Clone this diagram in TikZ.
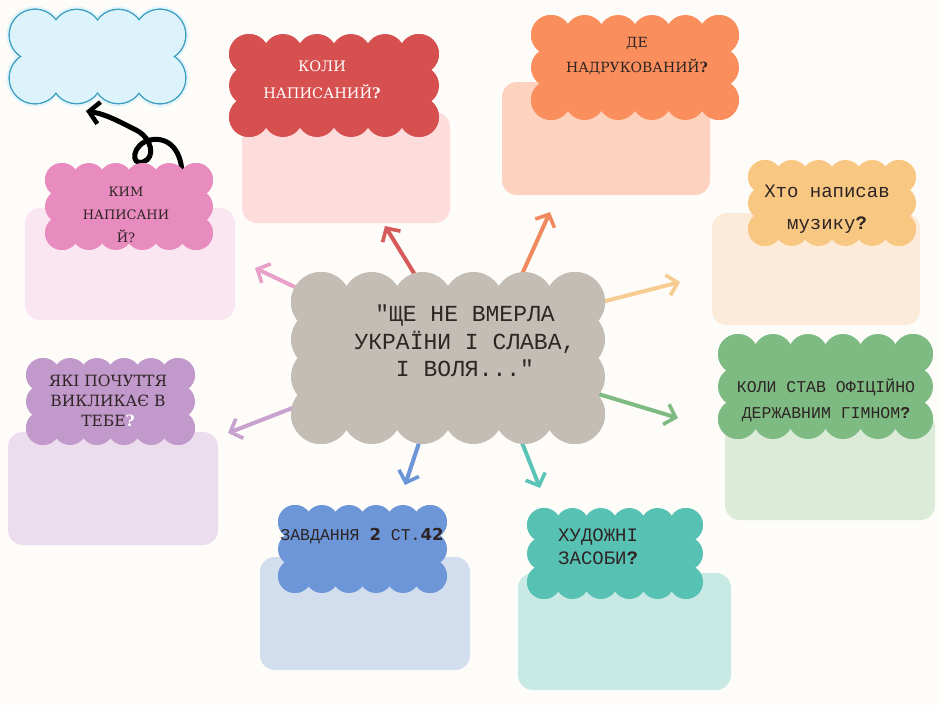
\documentclass[tikz,border=0pt]{standalone}
\usepackage{fontspec}
\setmainfont{DejaVu Serif}
\newfontfamily\mono{Liberation Mono}
\newfontfamily\digf{DejaVu Sans}
\usetikzlibrary{arrows.meta}
\definecolor{bg}{HTML}{FDFCF9}
\definecolor{ink}{HTML}{2E2424}
\definecolor{skyF}{HTML}{DDF3FC}
\definecolor{skyS}{HTML}{3E9FC0}
\definecolor{skyG}{HTML}{E3F4FB}
\definecolor{pinkC}{HTML}{E88BBE}
\definecolor{pinkR}{HTML}{FAE6F0}
\definecolor{pinkA}{HTML}{E9A0C8}
\definecolor{redC}{HTML}{D65050}
\definecolor{redR}{HTML}{FDDCDC}
\definecolor{redA}{HTML}{D65A5A}
\definecolor{oraC}{HTML}{FA8E5C}
\definecolor{oraR}{HTML}{FDD3C0}
\definecolor{oraA}{HTML}{F0895D}
\definecolor{peaC}{HTML}{F8C883}
\definecolor{peaR}{HTML}{FDEBDA}
\definecolor{peaA}{HTML}{F7CC90}
\definecolor{grnC}{HTML}{7DBB83}
\definecolor{grnR}{HTML}{DCEBD8}
\definecolor{grnA}{HTML}{7DBB83}
\definecolor{purC}{HTML}{C299CB}
\definecolor{purR}{HTML}{ECDDEE}
\definecolor{purA}{HTML}{C7A2CF}
\definecolor{bluC}{HTML}{6C96D8}
\definecolor{bluR}{HTML}{D2DDEE}
\definecolor{bluA}{HTML}{6C96D8}
\definecolor{teaC}{HTML}{57C2B4}
\definecolor{teaR}{HTML}{C9EAE4}
\definecolor{teaA}{HTML}{5CC4B6}
\definecolor{ctrC}{HTML}{C4BDB6}
\newcommand\mycloud[8]{%
  \pgfmathsetmacro\ca{#1+#5}%
  \pgfmathsetmacro\cb{#3-#5}%
  \pgfmathsetmacro\cc{#2+#5}%
  \pgfmathsetmacro\cd{#4-#5}%
  \path[#8] (\ca,\cc) rectangle (\cb,\cd);
  \foreach \i in {0,...,#6}{\path[#8] ({\ca+\i*(\cb-\ca)/#6},\cc) circle[radius=#5pt] ({\ca+\i*(\cb-\ca)/#6},\cd) circle[radius=#5pt];}
  \foreach \j in {0,...,#7}{\path[#8] (\ca,{\cc+\j*(\cd-\cc)/#7}) circle[radius=#5pt] (\cb,{\cc+\j*(\cd-\cc)/#7}) circle[radius=#5pt];}
}
\tikzset{
  panel/.style={fill=#1, rounded corners=15pt},
  spoke/.style={draw=#1, line width=4pt, line cap=round, -{Straight Barb[length=10pt,width=21pt,line width=3.6pt]}},
  lbl/.style={align=center, text=ink, inner sep=0pt}
}
\begin{document}
\begin{tikzpicture}[x=1pt,y=-1pt]
\useasboundingbox (0,0) rectangle (940,705);
\fill[bg] (0,0) rectangle (940,705);
% connectors
\coordinate (sPink) at (322,300); \coordinate (ePink) at (255,268);
\coordinate (sRed) at (420,283); \coordinate (eRed) at (385,226);
\coordinate (sOra) at (518,283); \coordinate (eOra) at (550,212);
\coordinate (sPea) at (590,305); \coordinate (ePea) at (680,282);
\coordinate (sGrn) at (595,393); \coordinate (eGrn) at (678,418);
\coordinate (sTea) at (515,425); \coordinate (eTea) at (540,488);
\coordinate (sBlu) at (425,425); \coordinate (eBlu) at (405,485);
\coordinate (sPur) at (295,407); \coordinate (ePur) at (228,433);
\draw[spoke=pinkA] (sPink) -- (ePink);
\draw[spoke=redA] (sRed) -- (eRed);
\draw[spoke=oraA] (sOra) -- (eOra);
\draw[spoke=peaA] (sPea) -- (ePea);
\draw[spoke=grnA] (sGrn) -- (eGrn);
\draw[spoke=teaA] (sTea) -- (eTea);
\draw[spoke=bluA] (sBlu) -- (eBlu);
\draw[spoke=purA] (sPur) -- (ePur);
% panels
\path[panel=pinkR] (25,208) rectangle (235,320);
\path[panel=redR] (242,112) rectangle (450,223);
\path[panel=oraR] (502,82) rectangle (710,195);
\path[panel=peaR] (712,213) rectangle (920,325);
\path[panel=grnR] (725,412) rectangle (935,520);
\path[panel=purR] (8,432) rectangle (218,545);
\path[panel=bluR] (260,557) rectangle (470,670);
\path[panel=teaR] (518,573) rectangle (731,690);
% outlined sky cloud
\mycloud{10}{10}{185}{103}{25}{3}{1}{draw=skyG, line width=7pt}
\mycloud{10}{10}{185}{103}{25}{3}{1}{draw=skyS, line width=2.8pt}
\mycloud{10}{10}{185}{103}{25}{3}{1}{fill=skyF}
% curl arrow
\coordinate (curlS) at (182,178);
\coordinate (curlE) at (86,111);
\draw[line width=5pt, line cap=round, -{Straight Barb[length=10pt,width=22pt,line width=4.5pt]}]
  (curlS) .. controls (183,150) and (168,136) .. (150,140)
  .. controls (132,144) and (130,166) .. (143,162)
  .. controls (156,158) and (152,138) .. (136,130)
  .. controls (122,123) and (106,114) .. (curlE);
% filled clouds
\mycloud{45}{163}{213}{250}{17}{5}{2}{fill=pinkC}
\mycloud{229}{34}{439}{137}{20}{5}{2}{fill=redC}
\mycloud{531}{15}{739}{120}{20}{5}{2}{fill=oraC}
\mycloud{748}{160}{916}{246}{17}{5}{2}{fill=peaC}
\mycloud{718}{334}{933}{439}{20}{5}{2}{fill=grnC}
\mycloud{26}{358}{195}{445}{17}{5}{2}{fill=purC}
\mycloud{278}{505}{447}{593}{17}{5}{2}{fill=bluC}
\mycloud{527}{508}{703}{599}{17}{5}{2}{fill=teaC}
\mycloud{291}{272}{605}{444}{30}{5}{3}{fill=ctrC}
% texts
\node[lbl, font=\fontsize{13}{23}\selectfont] (tPink) at (126,215) {КИМ\\НАПИСАНИ\\Й?};
\node[lbl, text=white, font=\fontsize{14.5}{27}\selectfont] (tRed) at (322,80) {КОЛИ\\НАПИСАНИЙ\textbf{?}};
\node[lbl, font=\fontsize{14}{25}\selectfont] (tOra) at (637,56) {ДЕ\\НАДРУКОВАНИЙ\textbf{?}};
\node[lbl, font=\mono\fontsize{19}{32}\selectfont] (tPea) at (827,209) {Хто написав\\музику\textbf{?}};
\node[lbl, font=\mono\fontsize{16.5}{26}\selectfont] (tGrn) at (826,400) {КОЛИ СТАВ ОФІЦІЙНО\\ДЕРЖАВНИМ ГІМНОМ\textbf{?}};
\node[lbl, font=\fontsize{15.5}{20}\selectfont] (tPur) at (108,401) {ЯКІ ПОЧУТТЯ\\ВИКЛИКАЄ В\\ТЕБЕ\textcolor{white}{\textbf{?}}};
\node[lbl, font=\mono\fontsize{16.5}{20}\selectfont] (tBlu) at (362,536) {ЗАВДАННЯ {\digf\bfseries 2} СТ.{\digf\bfseries 42}};
\node[lbl, align=left, anchor=west, font=\mono\fontsize{19}{23}\selectfont] (tTea) at (558,547) {ХУДОЖНІ\\ЗАСОБИ\textbf{?}};
\node[lbl, font=\mono\fontsize{23}{27.5}\selectfont] (ctr) at (465,341) {"ЩЕ НЕ ВМЕРЛА\\УКРАЇНИ І СЛАВА,\\І ВОЛЯ..."};
\end{tikzpicture}
\end{document}
